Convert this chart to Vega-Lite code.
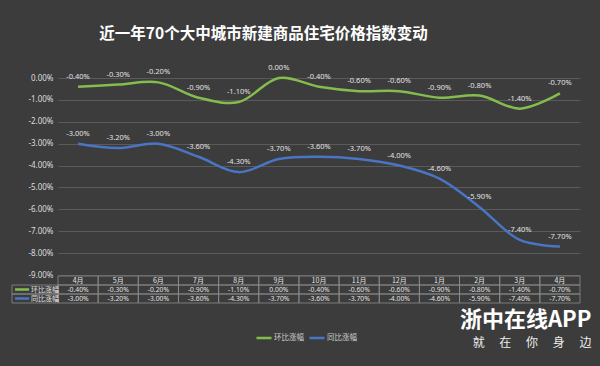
{
  "$schema": "https://vega.github.io/schema/vega-lite/v6.json",
  "background": "#3c3c3c",
  "padding": {"left": 11, "right": 10, "top": 26, "bottom": 16},
  "title": {
    "text": "近一年70个大中城市新建商品住宅价格指数变动",
    "fontSize": 15.5,
    "fontWeight": "bold",
    "color": "#ffffff",
    "font": "Noto Sans CJK SC",
    "anchor": "middle",
    "dx": -38,
    "offset": 22
  },
  "datasets": {
    "months": [
      {"key": "M01", "月份": "4月"}, {"key": "M02", "月份": "5月"}, {"key": "M03", "月份": "6月"},
      {"key": "M04", "月份": "7月"}, {"key": "M05", "月份": "8月"}, {"key": "M06", "月份": "9月"},
      {"key": "M07", "月份": "10月"}, {"key": "M08", "月份": "11月"}, {"key": "M09", "月份": "12月"},
      {"key": "M10", "月份": "1月"}, {"key": "M11", "月份": "2月"}, {"key": "M12", "月份": "3月"},
      {"key": "M13", "月份": "4月"}
    ],
    "rows": [{"series": "环比涨幅"}, {"series": "同比涨幅"}],
    "vals": [
      {"key": "M01", "series": "环比涨幅", "value": -0.004},
      {"key": "M02", "series": "环比涨幅", "value": -0.003},
      {"key": "M03", "series": "环比涨幅", "value": -0.002},
      {"key": "M04", "series": "环比涨幅", "value": -0.009},
      {"key": "M05", "series": "环比涨幅", "value": -0.011},
      {"key": "M06", "series": "环比涨幅", "value": 0.0},
      {"key": "M07", "series": "环比涨幅", "value": -0.004},
      {"key": "M08", "series": "环比涨幅", "value": -0.006},
      {"key": "M09", "series": "环比涨幅", "value": -0.006},
      {"key": "M10", "series": "环比涨幅", "value": -0.009},
      {"key": "M11", "series": "环比涨幅", "value": -0.008},
      {"key": "M12", "series": "环比涨幅", "value": -0.014},
      {"key": "M13", "series": "环比涨幅", "value": -0.007},
      {"key": "M01", "series": "同比涨幅", "value": -0.03},
      {"key": "M02", "series": "同比涨幅", "value": -0.032},
      {"key": "M03", "series": "同比涨幅", "value": -0.03},
      {"key": "M04", "series": "同比涨幅", "value": -0.036},
      {"key": "M05", "series": "同比涨幅", "value": -0.043},
      {"key": "M06", "series": "同比涨幅", "value": -0.037},
      {"key": "M07", "series": "同比涨幅", "value": -0.036},
      {"key": "M08", "series": "同比涨幅", "value": -0.037},
      {"key": "M09", "series": "同比涨幅", "value": -0.04},
      {"key": "M10", "series": "同比涨幅", "value": -0.046},
      {"key": "M11", "series": "同比涨幅", "value": -0.059},
      {"key": "M12", "series": "同比涨幅", "value": -0.074},
      {"key": "M13", "series": "同比涨幅", "value": -0.077}
    ]
  },
  "bounds": "flush",
  "spacing": 1,
  "vconcat": [
    {
      "width": 522,
      "height": 197,
      "data": {"name": "vals"},
      "encoding": {
        "x": {"field": "key", "type": "nominal", "sort": null, "scale": {"type": "point", "padding": 0.5}, "axis": null},
        "y": {
          "field": "value", "type": "quantitative",
          "scale": {"domain": [-0.09, 0], "nice": false, "zero": false},
          "axis": {
            "values": [0, -0.01, -0.02, -0.03, -0.04, -0.05, -0.06, -0.07, -0.08, -0.09],
            "format": ".2%", "title": null, "domain": false, "ticks": false,
            "labelPadding": 5, "labelFontSize": 8, "labelColor": "#dddddd",
            "labelFont": "Noto Sans",
            "gridColor": "#5a5a5a", "gridWidth": 1
          }
        },
        "color": {
          "field": "series", "type": "nominal",
          "scale": {"domain": ["环比涨幅", "同比涨幅"], "range": ["#84bc4e", "#4a74c4"]},
          "legend": {
            "orient": "none", "legendX": 197, "legendY": 251,
            "direction": "horizontal", "title": null,
            "symbolType": "stroke", "symbolStrokeWidth": 2.5, "symbolSize": 225,
            "labelFontSize": 7.5, "labelColor": "#cccccc", "labelFont": "Noto Sans CJK SC",
            "columnPadding": 0, "labelOffset": 1
          }
        }
      },
      "layer": [
        {"mark": {"type": "line", "interpolate": "catmull-rom", "strokeWidth": 2.5}},
        {
          "mark": {"type": "text", "dy": -10, "fontSize": 7.5, "color": "#e2e2e2", "font": "Noto Sans"},
          "encoding": {"text": {"field": "value", "type": "quantitative", "format": ".2%"}, "color": {"value": "#e2e2e2"}}
        }
      ]
    },
    {
      "width": 522,
      "height": 27,
      "title": {
        "text": "浙中在线APP",
        "subtitle": "就　 在　 你　 身　 边",
        "orient": "bottom",
        "anchor": "end",
        "fontSize": 22,
        "fontWeight": "bold",
        "color": "#ffffff",
        "font": "Noto Sans CJK SC",
        "subtitleFont": "Noto Sans CJK SC",
        "subtitleFontSize": 12,
        "subtitleColor": "#eeeeee",
        "subtitlePadding": 6,
        "offset": 7,
        "dx": 11
      },
      "resolve": {"scale": {"x": "independent"}},
      "encoding": {
        "y": {"type": "nominal", "scale": {"domain": ["hdr", "环比涨幅", "同比涨幅"], "paddingInner": 0, "paddingOuter": 0}, "axis": null}
      },
      "layer": [
        {
          "data": {"name": "months"},
          "mark": {"type": "rect", "fillOpacity": 0, "stroke": "#8c8c8c", "strokeWidth": 0.8},
          "encoding": {
            "x": {"field": "key", "type": "nominal", "sort": null, "scale": {"type": "band", "paddingInner": 0, "paddingOuter": 0}, "axis": null},
            "y": {"datum": "hdr", "type": "nominal"}
          }
        },
        {
          "data": {"name": "months"},
          "mark": {"type": "text", "fontSize": 7, "color": "#e2e2e2", "font": "Noto Sans CJK SC"},
          "encoding": {
            "x": {"field": "key", "type": "nominal", "sort": null, "scale": {"type": "band", "paddingInner": 0, "paddingOuter": 0}, "axis": null},
            "y": {"datum": "hdr", "type": "nominal"},
            "text": {"field": "月份"}
          }
        },
        {
          "data": {"name": "vals"},
          "mark": {"type": "rect", "fillOpacity": 0, "stroke": "#8c8c8c", "strokeWidth": 0.8},
          "encoding": {
            "x": {"field": "key", "type": "nominal", "sort": null, "scale": {"type": "band", "paddingInner": 0, "paddingOuter": 0}, "axis": null},
            "y": {"field": "series"}
          }
        },
        {
          "data": {"name": "vals"},
          "mark": {"type": "text", "fontSize": 6.8, "color": "#e2e2e2", "font": "Noto Sans"},
          "encoding": {
            "x": {"field": "key", "type": "nominal", "sort": null, "scale": {"type": "band", "paddingInner": 0, "paddingOuter": 0}, "axis": null},
            "y": {"field": "series"},
            "text": {"field": "value", "type": "quantitative", "format": ".2%"}
          }
        },
        {
          "data": {"name": "rows"},
          "mark": {"type": "rect", "fillOpacity": 0, "stroke": "#8c8c8c", "strokeWidth": 0.8},
          "encoding": {
            "x": {"datum": -1.146, "type": "quantitative", "scale": {"domain": [0, 13], "nice": false, "zero": false}, "axis": null},
            "x2": {"datum": 0},
            "y": {"field": "series"}
          }
        },
        {
          "data": {"name": "rows"},
          "mark": {"type": "rule", "strokeWidth": 2.5},
          "encoding": {
            "x": {"datum": -1.07, "type": "quantitative", "scale": {"domain": [0, 13], "nice": false, "zero": false}, "axis": null},
            "x2": {"datum": -0.72},
            "y": {"field": "series", "bandPosition": 0.5},
            "color": {"field": "series", "type": "nominal"}
          }
        },
        {
          "data": {"name": "rows"},
          "mark": {"type": "text", "align": "left", "fontSize": 7, "color": "#e2e2e2", "font": "Noto Sans CJK SC"},
          "encoding": {
            "x": {"datum": -0.67, "type": "quantitative", "scale": {"domain": [0, 13], "nice": false, "zero": false}, "axis": null},
            "y": {"field": "series"},
            "text": {"field": "series"}
          }
        }
      ]
    }
  ],
  "config": {
    "view": {"stroke": null},
    "locale": {"number": {"decimal": ".", "thousands": ",", "grouping": [3], "currency": ["", ""], "minus": "-", "percent": "%"}}
  }
}
